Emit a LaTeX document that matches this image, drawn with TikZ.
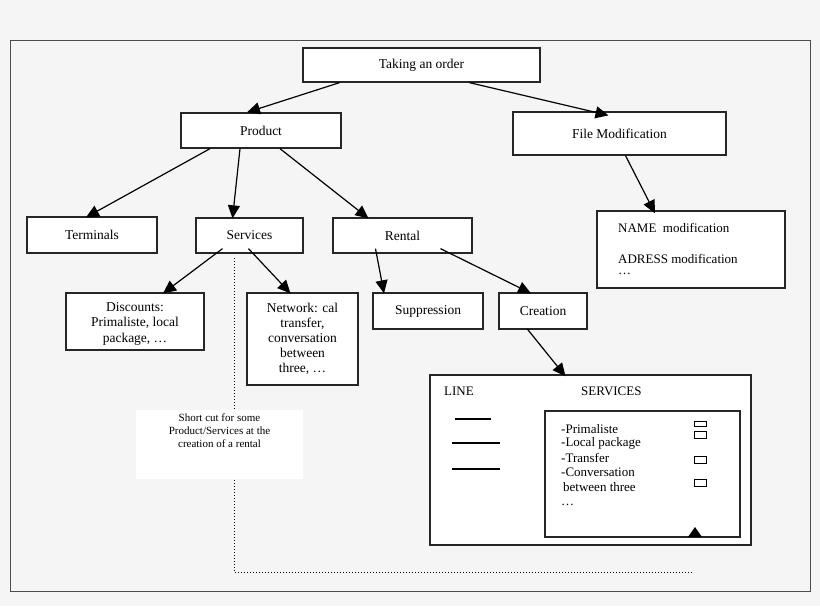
\documentclass[tikz,border=0pt]{standalone}
\usepackage{fontspec}
\setmainfont{Liberation Serif}
\usetikzlibrary{arrows.meta}
\begin{document}
\begin{tikzpicture}[x=1pt,y=-1pt,
  bx/.style={draw=black!85,line width=1.3pt,fill=white,align=center,font=\fontsize{13.5}{15}\selectfont,inner sep=0pt},
  ar/.style={-{Triangle[length=13pt,width=12pt]},line width=1.2pt},
  tx/.style={font=\fontsize{13}{15}\selectfont,anchor=west,inner sep=0pt}]
\fill[black!4] (0,0) rectangle (820,606);
\draw[black!70,line width=0.8pt] (10,40) rectangle (810,591);
\node[bx,minimum width=237,minimum height=34] (take) at (421.5,65) {Taking an order};
\node[bx,minimum width=160,minimum height=35] (prod) at (261,130.5) {Product};
\node[bx,minimum width=213,minimum height=43] (file) at (619.5,133.5) {File Modification};
\node[bx,minimum width=130,minimum height=36] (term) at (92,235) {Terminals};
\node[bx,minimum width=107,minimum height=35] (serv) at (249.5,235.5) {Services};
\node[bx,minimum width=139,minimum height=35] (rent) at (402.5,235.5) {Rental};
\node[bx,minimum width=188,minimum height=77] (name) at (691,249.5) {};
\node[tx] (n1) at (618,228) {NAME\ \ modification};
\node[tx] (n2) at (618,259) {ADRESS modification};
\node[tx] (n3) at (618,274) {\dots};
\node[bx,minimum width=138,minimum height=57] (disc) at (135,321.5) {};
\begin{scope}
\clip (66,293) rectangle (204,349);
\node[font=\fontsize{13.5}{15.5}\selectfont,align=center,inner sep=0pt,anchor=north] (disct) at (135,302) {Discounts:\\Primaliste, local\\package, \dots};
\end{scope}
\node[bx,minimum width=111,minimum height=92,font=\fontsize{13.5}{15}\selectfont] (net) at (302.5,339) {Network: cal\\transfer,\\conversation\\between\\three, \dots};
\node[bx,minimum width=110,minimum height=36] (supp) at (428,311) {Suppression};
\node[bx,minimum width=88,minimum height=36] (crea) at (543,311) {Creation};
\draw[line width=1pt,dotted] (234,258) -- (234,572) -- (694,572);
\node[fill=white,minimum width=167,minimum height=69,inner sep=0pt] (sc) at (219.5,444.5) {};
\node[font=\fontsize{11}{13}\selectfont,align=center,anchor=north] (sct) at (219.5,410) {Short cut for some\\Product/Services at the\\creation of a rental};
\node[bx,minimum width=321,minimum height=170] (big) at (590.5,460) {};
\node[tx] (line) at (444,391) {LINE};
\node[tx] (servt) at (581,391) {SERVICES};
\draw[line width=1.2pt] (455,419) -- (491,419);
\draw[line width=1.2pt] (452,443) -- (500,443);
\draw[line width=1.2pt] (452,469) -- (500,469);
\node[bx,minimum width=195,minimum height=126] (inner) at (642.5,474) {};
\node[tx] (i1) at (561,429) {-Primaliste};
\node[tx] (i2) at (561,443) {-Local package};
\node[tx] (i3) at (561,458) {-Transfer};
\node[tx] (i4) at (561,472) {-Conversation};
\node[tx] (i5) at (563,487) {between three};
\node[tx] (i6) at (561,505) {\dots};
\draw[line width=1pt] (694,421) rectangle (706,426);
\draw[line width=1pt] (694,431) rectangle (706,438);
\draw[line width=1pt] (694,456) rectangle (706,463);
\draw[line width=1pt] (694,479) rectangle (706,486);
\fill (688,537) -- (695,527) -- (702,537) -- cycle;
\draw[ar] ([xshift=-82]take.south) -- ([xshift=-14]prod.north);
\draw[ar] ([xshift=48]take.south) -- ([xshift=-11,yshift=-4]file.north);
\draw[ar] ([xshift=-51]prod.south) -- ([xshift=-6,yshift=-1]term.north);
\draw[ar] ([xshift=-21]prod.south) -- ([xshift=-17,yshift=-1]serv.north);
\draw[ar] ([xshift=19]prod.south) -- ([xshift=-34,yshift=-1]rent.north);
\draw[ar] ([xshift=-27,yshift=5]serv.south) -- ([xshift=28,yshift=-1]disc.north);
\draw[ar] ([xshift=-1,yshift=5]serv.south) -- ([xshift=-12,yshift=-1]net.north);
\draw[ar] ([xshift=-27,yshift=5]rent.south) -- ([xshift=-44,yshift=-1]supp.north);
\draw[ar] ([xshift=38,yshift=5]rent.south) -- ([xshift=-12,yshift=-1]crea.north);
\draw[ar] ([xshift=6]file.south) -- ([xshift=-36,yshift=-3]name.north);
\draw[ar] ([xshift=-16,yshift=1]crea.south) -- ([xshift=-25,yshift=-2]big.north);
\useasboundingbox (0,0) rectangle (820,606);
\end{tikzpicture}
\end{document}
